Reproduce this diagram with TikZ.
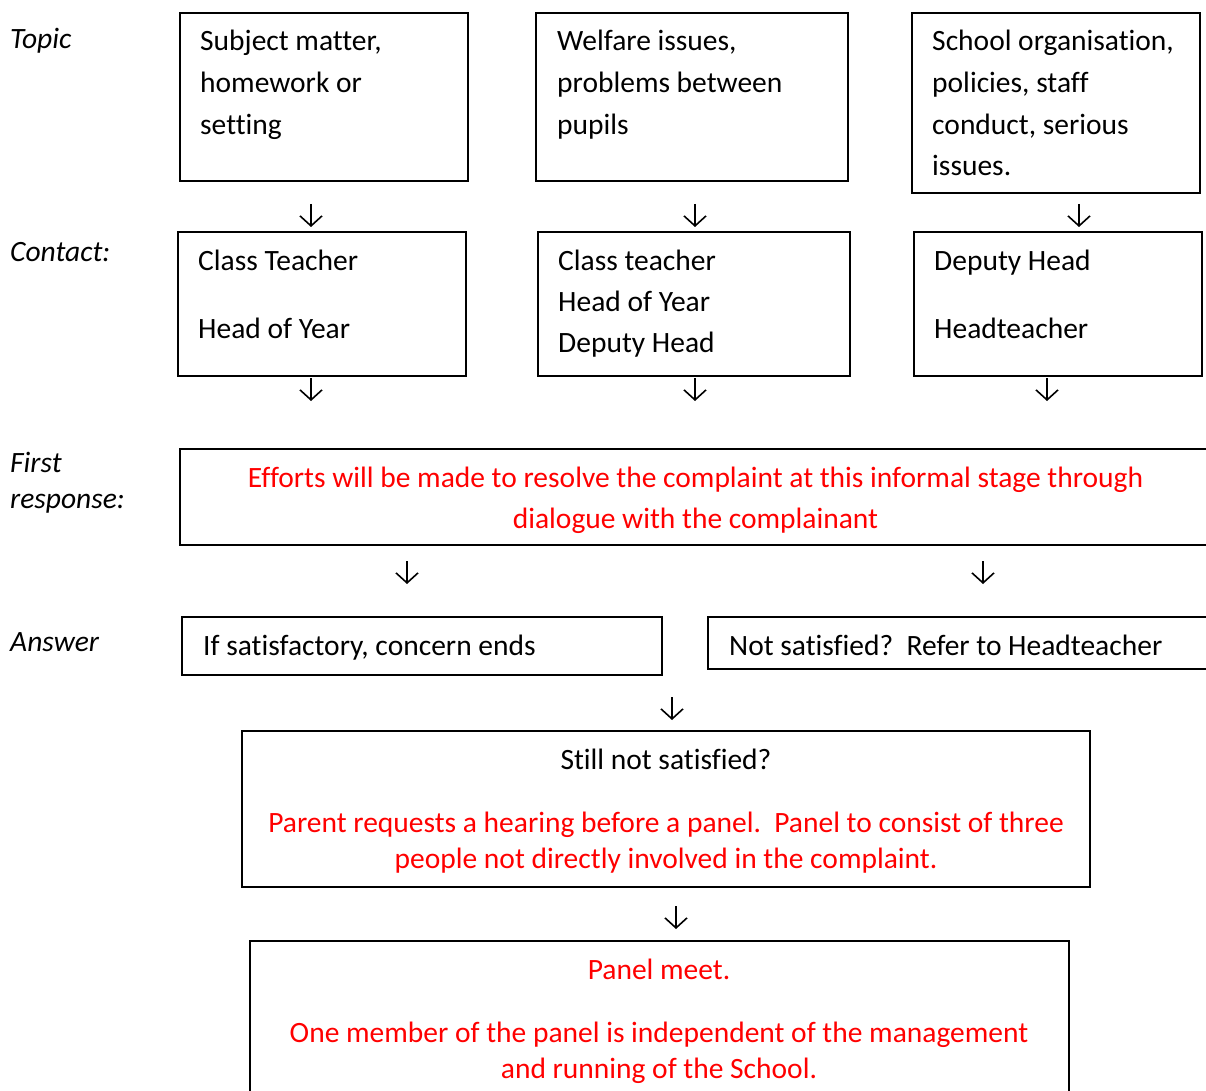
\documentclass[tikz,border=0pt]{standalone}
\usepackage{fontspec}
\setmainfont{Carlito}[Ligatures={NoCommon}]
\usetikzlibrary{arrows.meta}
\definecolor{redtxt}{RGB}{255,0,0}
\tikzset{
  box/.style={draw=black, line width=1.7pt, anchor=north west, inner sep=0pt, outer sep=0pt, rectangle},
  txt/.style={inner sep=0pt, anchor=base west, font=\fontsize{29.5}{35}\selectfont},
  ctxt/.style={inner sep=0pt, anchor=base, font=\fontsize{29.5}{35}\selectfont},
  lbl/.style={txt, font=\fontsize{29.5}{35}\selectfont\itshape},
  red/.style={text=redtxt},
  arr/.style={line width=1.6pt, -{Straight Barb[length=10pt,width=22pt,line width=1.6pt]}}
}
\begin{document}
\begin{tikzpicture}[x=1pt,y=-1pt]
\useasboundingbox (0,0) rectangle (1206,1091);
\clip (0,0) rectangle (1206,1091);
% row labels
\node[lbl] (lTopic) at (10,49) {Topic};
\node[lbl] (lContact) at (10,261) {Contact:};
\node[lbl] (lFirst) at (10,472) {First};
\node[lbl] (lResp) at (10,508) {response:};
\node[lbl] (lAnswer) at (10,651) {Answer};
% topic boxes
\node[box, minimum width=288pt, minimum height=168pt] (t1) at (180,13) {};
\node[box, minimum width=312pt, minimum height=168pt] (t2) at (536,13) {};
\node[box, minimum width=288pt, minimum height=180pt] (t3) at (912,13) {};
\node[txt] (t1a) at (200,51) {Subject matter,};
\node[txt] (t1b) at (200,93) {homework or};
\node[txt] (t1c) at (200,135) {setting};
\node[txt] (t2a) at (557,51) {Welfare issues,};
\node[txt] (t2b) at (557,93) {problems between};
\node[txt] (t2c) at (557,135) {pupils};
\node[txt] (t3a) at (932,51) {School organisation,};
\node[txt] (t3b) at (932,93) {policies, staff};
\node[txt] (t3c) at (932,135) {conduct, serious};
\node[txt] (t3d) at (932,176) {issues.};
% contact boxes
\node[box, minimum width=288pt, minimum height=144pt] (c1) at (178,232) {};
\node[box, minimum width=312pt, minimum height=144pt] (c2) at (538,232) {};
\node[box, minimum width=288pt, minimum height=144pt] (c3) at (914,232) {};
\node[txt] (c1a) at (198,270) {Class Teacher};
\node[txt] (c1b) at (198,338) {Head of Year};
\node[txt] (c2a) at (558,270) {Class teacher};
\node[txt] (c2b) at (558,311) {Head of Year};
\node[txt] (c2c) at (558,352) {Deputy Head};
\node[txt] (c3a) at (934,270) {Deputy Head};
\node[txt] (c3b) at (934,338) {Headteacher};
% first response
\node[box, minimum width=1060pt, minimum height=96pt] (fr) at (180,449) {};
\node[ctxt, red] (fra) at (695.5,487) {Efforts will be made to resolve the complaint at this informal stage through};
\node[ctxt, red] (frb) at (695.5,528) {dialogue with the complainant};
% answers
\node[box, minimum width=480pt, minimum height=58pt] (an1) at (182,617) {};
\node[box, minimum width=520pt, minimum height=52pt] (an2) at (708,617) {};
\node[txt] (an1t) at (203,655) {If satisfactory, concern ends};
\node[txt] (an2t) at (729,655) {Not satisfied?\ \ Refer to Headteacher};
% still not satisfied
\node[box, minimum width=848pt, minimum height=156pt] (st) at (242,731) {};
\node[ctxt] (sta) at (666,769) {Still not satisfied?};
\node[ctxt, red] (stb) at (666,832) {Parent requests a hearing before a panel.\ \ Panel to consist of three};
\node[ctxt, red] (stc) at (666,868) {people not directly involved in the complaint.};
% panel
\node[box, minimum width=819pt, minimum height=170pt] (pm) at (250,941) {};
\node[ctxt, red] (pma) at (659,979) {Panel meet.};
\node[ctxt, red] (pmb) at (659,1042) {One member of the panel is independent of the management};
\node[ctxt, red] (pmc) at (659,1078) {and running of the School.};
% arrows
\coordinate (a1) at (311,204); \coordinate (a2) at (695,204); \coordinate (a3) at (1079,204);
\coordinate (b1) at (311,378); \coordinate (b2) at (695,378); \coordinate (b3) at (1047,378);
\coordinate (d1) at (407,561); \coordinate (d2) at (983,561);
\coordinate (e1) at (672,697);
\coordinate (g1) at (676,906);
\foreach \p in {a1,a2,a3,b1,b2,b3,d1,d2,e1,g1}{
  \draw[arr] (\p) -- ++(0,23);
}
\end{tikzpicture}
\end{document}
